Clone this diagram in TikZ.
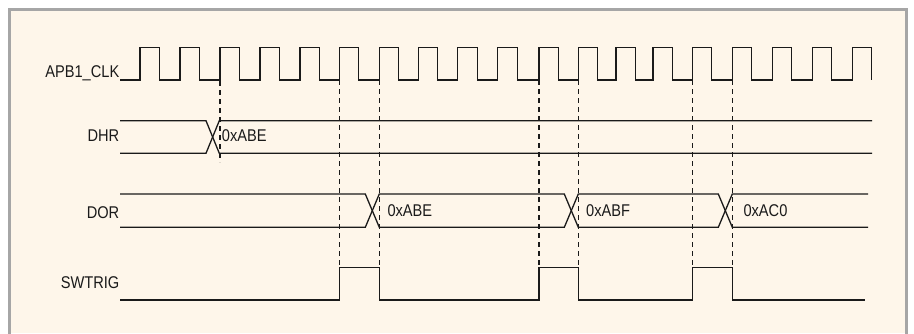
\documentclass[tikz,border=0pt]{standalone}
\usepackage{fontspec}
\setmainfont[FakeStretch=0.86]{Liberation Sans}
\definecolor{paper}{HTML}{FEF6EA}
\definecolor{rim}{HTML}{A6A6A6}
\definecolor{ink}{HTML}{1A1A1A}
\begin{document}
\begin{tikzpicture}[x=1pt, y=-1pt,
  sig/.style={draw=ink, line width=1.3pt},
  mark line/.style={draw=ink, line width=1.2pt, dash pattern=on 5pt off 4pt},
  lbl/.style={inner sep=0pt, anchor=base east, text=ink, font=\fontsize{17}{18}\selectfont},
  val/.style={inner sep=0pt, anchor=base west, text=ink, font=\fontsize{17}{18}\selectfont}]
\useasboundingbox (0,0) rectangle (914,333);
\fill[white] (0,0) rectangle (914,333);
\fill[paper] (9,9) rectangle (906,333);
\draw[rim, line width=3pt] (9,340) -- (9,9) -- (906,9) -- (906,340);
% labels
\node[lbl] (clk) at (119.5,77.7) {APB1\_CLK};
\node[lbl] (dhr) at (119.5,141.7) {DHR};
\node[lbl] (dor) at (119.5,218.3) {DOR};
\node[lbl] (swt) at (119.5,288.3) {SWTRIG};
% clock
\draw[sig] (120,80) foreach \r in {140,180,220,260,300,339.3,379.3,418.3,457.7,497.7,539,578.3,616,653,692.3,732.3,772.3,812.3,852.3}{ -- (\r,80) -- (\r,47.7) -- ++(19.5,0) -- ++(0,32.3) };
% trigger marks
\draw[mark line] (220,72) -- (220,162);
\foreach \m in {339.3,379.3,539,578.3,692.3,732.3}
  \draw[mark line] (\m,80) -- (\m,267.7);
% DHR
\draw[sig] (120,120.7) -- (206,120.7) -- (219.3,153.3) -- (872,153.3);
\draw[sig] (120,153.3) -- (206,153.3) -- (219.3,120.7) -- (872,120.7);
\node[val] (dhr0) at (221.7,141.7) {0xABE};
% DOR
\draw[sig] (120,194) -- (365.3,194) -- (379.3,227.3) -- (564.3,227.3) -- (578.3,194) -- (718.3,194) -- (732.3,227.3) -- (868,227.3);
\draw[sig] (120,227.3) -- (365.3,227.3) -- (379.3,194) -- (564.3,194) -- (578.3,227.3) -- (718.3,227.3) -- (732.3,194) -- (868,194);
\node[val] (dor0) at (387.3,216.5) {0xABE};
\node[val] (dor1) at (586,216.5) {0xABF};
\node[val] (dor2) at (743.3,216.5) {0xAC0};
% SWTRIG
\draw[sig] (120,300) -- (339.3,300) -- (339.3,267.7) -- (379.3,267.7) -- (379.3,300) -- (539,300) -- (539,267.7) -- (578.3,267.7) -- (578.3,300) -- (692.3,300) -- (692.3,267.7) -- (732.3,267.7) -- (732.3,300) -- (865,300);
\end{tikzpicture}
\end{document}
